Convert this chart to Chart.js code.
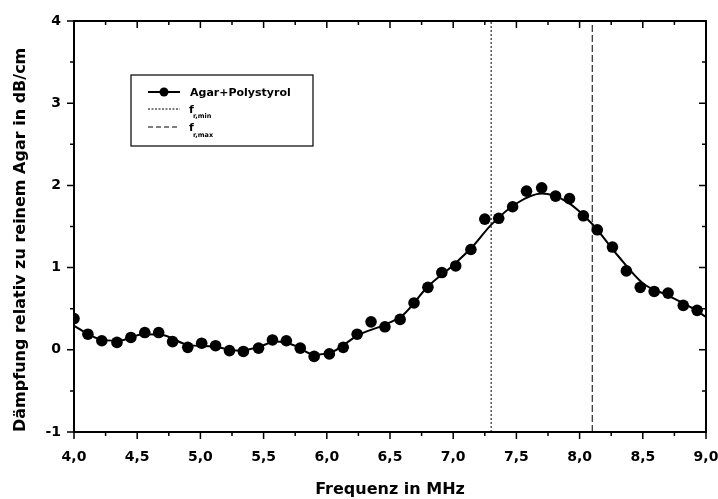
<!DOCTYPE html>
<html>
<head>
<meta charset="utf-8">
<script src="https://cdn.jsdelivr.net/npm/chart.js@4/dist/chart.umd.min.js"></script>
<style>
  html, body { margin: 0; padding: 0; background: #fff; }
  #wrap { width: 718px; height: 499px; }
</style>
</head>
<body>
<div id="wrap"><canvas id="daempfungChart" width="718" height="499"></canvas></div>
<script>
// Messpunkte (Frequenz in MHz, Dämpfung in dB/cm)
const freqs = [4.00, 4.11, 4.22, 4.34, 4.45, 4.56, 4.67, 4.78, 4.90, 5.01,
               5.12, 5.23, 5.34, 5.46, 5.57, 5.68, 5.79, 5.90, 6.02, 6.13,
               6.24, 6.35, 6.46, 6.58, 6.69, 6.80, 6.91, 7.02, 7.14, 7.25,
               7.36, 7.47, 7.58, 7.70, 7.81, 7.92, 8.03, 8.14, 8.26, 8.37,
               8.48, 8.59, 8.70, 8.82, 8.93]
const daempfung = [0.38, 0.19, 0.11, 0.09, 0.15, 0.21, 0.21, 0.10, 0.03, 0.08,
                   0.05, -0.01, -0.02, 0.02, 0.12, 0.11, 0.02, -0.08, -0.05, 0.03,
                   0.19, 0.34, 0.28, 0.37, 0.57, 0.76, 0.94, 1.02, 1.22, 1.59,
                   1.60, 1.74, 1.93, 1.97, 1.87, 1.84, 1.63, 1.46, 1.25, 0.96,
                   0.76, 0.71, 0.69, 0.54, 0.48]

// Ausgleichskurve
const fitFreqs = [4.0, 4.2, 4.35, 4.55, 4.7, 4.9, 5.1, 5.3, 5.45, 5.6,
                  5.75, 5.9, 6.05, 6.25, 6.45, 6.6, 6.8, 7.0, 7.15, 7.3,
                  7.5, 7.7, 7.9, 8.1, 8.3, 8.5, 8.7, 8.9, 9.0]
const fitValues = [0.29, 0.13, 0.11, 0.19, 0.18, 0.06, 0.04, -0.01, 0.03, 0.10,
                   0.05, -0.06, -0.02, 0.18, 0.30, 0.42, 0.77, 1.03, 1.25, 1.52,
                   1.78, 1.90, 1.80, 1.53, 1.15, 0.81, 0.66, 0.50, 0.40]

const fMin = 7.3
const fMax = 8.1

const xTicks = [4.0, 4.5, 5.0, 5.5, 6.0, 6.5, 7.0, 7.5, 8.0, 8.5, 9.0]
const xMinorTicks = [4.25, 4.75, 5.25, 5.75, 6.25, 6.75, 7.25, 7.75, 8.25, 8.75]
const yTicks = [-1, 0, 1, 2, 3, 4]
const yMinorTicks = [-0.5, 0.5, 1.5, 2.5, 3.5]

const FONT = '"DejaVu Sans", Verdana, sans-serif'

const toPoints = (xs, ys) => xs.map((x, i) => ({ x: x, y: ys[i] }))

// Rahmen, Ticks und Legende wie im Original
const framePlugin = {
  id: 'frame',
  afterDraw(chart) {
    const ctx = chart.ctx
    const { left, right, top, bottom } = chart.chartArea
    const xs = chart.scales.x
    const ys = chart.scales.y
    ctx.save()
    ctx.strokeStyle = '#000'
    ctx.lineWidth = 2
    ctx.strokeRect(left, top, right - left, bottom - top)

    ctx.lineWidth = 1.5
    ctx.beginPath()
    const tickX = (vals, len) => vals.forEach(v => {
      const px = xs.getPixelForValue(v)
      ctx.moveTo(px, bottom); ctx.lineTo(px, bottom + len)
      ctx.moveTo(px, top); ctx.lineTo(px, top + len)
    })
    const tickY = (vals, len) => vals.forEach(v => {
      const py = ys.getPixelForValue(v)
      ctx.moveTo(left, py); ctx.lineTo(left - len, py)
      ctx.moveTo(right, py); ctx.lineTo(right - len, py)
    })
    tickX(xTicks, 7); tickX(xMinorTicks, 4)
    tickY(yTicks, 7); tickY(yMinorTicks, 4)
    ctx.stroke()

    // Legende
    const bx = 131, by = 75, bw = 182, bh = 71
    ctx.fillStyle = '#fff'
    ctx.fillRect(bx, by, bw, bh)
    ctx.lineWidth = 1.2
    ctx.strokeRect(bx, by, bw, bh)

    ctx.strokeStyle = '#000'
    ctx.lineWidth = 2
    ctx.setLineDash([])
    ctx.beginPath(); ctx.moveTo(148, 92); ctx.lineTo(180, 92); ctx.stroke()
    ctx.fillStyle = '#000'
    ctx.beginPath(); ctx.arc(164, 92, 4.5, 0, Math.PI * 2); ctx.fill()

    ctx.lineWidth = 1
    ctx.setLineDash([2, 1.5])
    ctx.beginPath(); ctx.moveTo(148, 109); ctx.lineTo(180, 109); ctx.stroke()
    ctx.setLineDash([5, 3])
    ctx.beginPath(); ctx.moveTo(148, 127); ctx.lineTo(180, 127); ctx.stroke()
    ctx.setLineDash([])

    ctx.textAlign = 'left'
    ctx.textBaseline = 'alphabetic'
    ctx.font = 'bold 11px ' + FONT
    ctx.fillText('Agar+Polystyrol', 190, 96)
    ctx.fillText('f', 189, 113)
    ctx.fillText('f', 189, 131)
    ctx.font = 'bold 6.5px ' + FONT
    ctx.fillText('r,min', 193, 118)
    ctx.fillText('r,max', 193, 137)
    ctx.restore()
  }
}

new Chart(document.getElementById('daempfungChart').getContext('2d'), {
  type: 'scatter',
  data: {
    datasets: [
      {
        label: 'Agar+Polystyrol',
        data: toPoints(freqs, daempfung),
        backgroundColor: '#000',
        borderColor: '#000',
        pointRadius: 5.8,
        pointBorderWidth: 0,
        showLine: false
      },
      {
        label: 'Fit',
        data: toPoints(fitFreqs, fitValues),
        borderColor: '#000',
        borderWidth: 2,
        pointRadius: 0,
        showLine: true,
        cubicInterpolationMode: 'monotone'
      },
      {
        label: 'f_r,min',
        data: [{ x: fMin, y: -1 }, { x: fMin, y: 4 }],
        borderColor: '#000',
        borderWidth: 1,
        borderDash: [2, 2],
        pointRadius: 0,
        showLine: true
      },
      {
        label: 'f_r,max',
        data: [{ x: fMax, y: -1 }, { x: fMax, y: 4 }],
        borderColor: '#000',
        borderWidth: 1,
        borderDash: [7, 3],
        pointRadius: 0,
        showLine: true
      }
    ]
  },
  options: {
    responsive: false,
    animation: false,
    devicePixelRatio: 1,
    layout: { padding: { top: 21, right: 12, left: 0, bottom: 0 } },
    plugins: {
      legend: { display: false },
      tooltip: { enabled: false }
    },
    scales: {
      x: {
        type: 'linear',
        min: 4,
        max: 9,
        afterFit: (scale) => {
          scale.height = 67
          scale.paddingLeft = 0
          scale.paddingRight = 0
        },
        afterBuildTicks: (scale) => { scale.ticks = xTicks.map(v => ({ value: v })) },
        grid: { display: false, drawTicks: false },
        border: { display: false },
        ticks: {
          padding: 17,
          color: '#000',
          font: { family: FONT, size: 14, weight: 'bold' },
          maxRotation: 0,
          callback: (v) => v.toFixed(1).replace('.', ',')
        },
        title: {
          display: true,
          text: 'Frequenz in MHz',
          color: '#000',
          font: { family: FONT, size: 16, weight: 'bold' },
          padding: { top: 0, bottom: 0 }
        }
      },
      y: {
        type: 'linear',
        min: -1,
        max: 4,
        afterFit: (scale) => {
          scale.width = 74
          scale.paddingTop = 0
          scale.paddingBottom = 0
        },
        afterBuildTicks: (scale) => { scale.ticks = yTicks.map(v => ({ value: v })) },
        grid: { display: false, drawTicks: false },
        border: { display: false },
        ticks: {
          padding: 13,
          color: '#000',
          font: { family: FONT, size: 14, weight: 'bold' },
          callback: (v) => String(v)
        },
        title: {
          display: true,
          text: 'Dämpfung relativ zu reinem Agar in dB/cm',
          align: 'start',
          color: '#000',
          font: { family: FONT, size: 16, weight: 'bold' },
          padding: { top: 11, bottom: 0 }
        }
      }
    }
  },
  plugins: [framePlugin]
})
</script>
</body>
</html>
